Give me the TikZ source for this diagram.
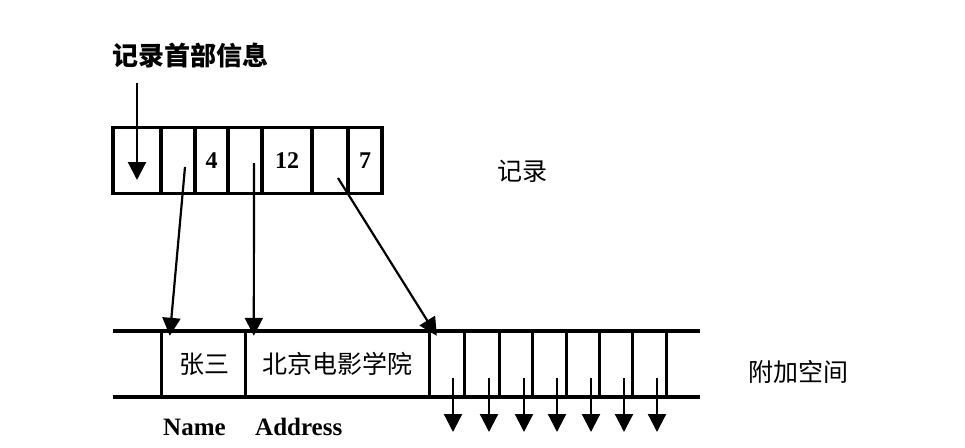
\documentclass[tikz,border=0pt]{standalone}
\usepackage{fontspec}
\setmainfont{Liberation Serif}
\newfontfamily\cjk{Noto Sans CJK SC}
\usetikzlibrary{arrows.meta}
\begin{document}
\begin{tikzpicture}[x=1pt,y=-1pt,
  cellbox/.style={draw,line width=3.2pt,inner sep=0pt,minimum height=66pt,font=\bfseries\fontsize{24}{24}\selectfont},
  slotbox/.style={inner sep=0pt,minimum height=66pt},
  arr/.style={line width=2.2pt,-{Triangle[width=18pt,length=18pt]}},
  cjklab/.style={font=\cjk\fontsize{25}{25}\selectfont},
  enlab/.style={font=\bfseries\fontsize{25}{25}\selectfont}]
\useasboundingbox (0,0) rectangle (965,447);
% top record
\node[cellbox,minimum width=48pt] (t1) at (137,160.5) {};
\node[cellbox,minimum width=34pt] (t2) at (178,160.5) {};
\node[cellbox,minimum width=33pt] (t3) at (211.5,160.5) {4};
\node[cellbox,minimum width=34pt] (t4) at (245,160.5) {};
\node[cellbox,minimum width=50pt] (t5) at (287,160.5) {12};
\node[cellbox,minimum width=36pt] (t6) at (330,160.5) {};
\node[cellbox,minimum width=34pt] (t7) at (365,160.5) {7};
\node[font=\cjk\bfseries\fontsize{26}{26}\selectfont,anchor=west,inner sep=0pt] (head) at (112,56) {记录首部信息};
\node[cjklab,anchor=west,inner sep=0pt] (rec) at (497,171) {记录};
\coordinate (hs) at (137,83);
\draw[arr] (hs) -- (t1.center |- 0,180);
% bottom row
\coordinate (bl) at (113,331);
\coordinate (br) at (700,331);
\draw[line width=3.2pt] (bl) -- (br);
\draw[line width=3.2pt] (113,397) -- (700,397);
\node[slotbox,minimum width=84pt,cjklab] (name) at (204,364) {张三};
\node[slotbox,minimum width=183pt,cjklab] (addr) at (337.5,364) {北京电影学院};
\draw[line width=3.2pt] (name.north west) -- (name.south west);
\draw[line width=3.2pt] (addr.north west) -- (addr.south west);
\draw[line width=3.2pt] (addr.north east) -- (addr.south east);
\foreach \i/\xa/\xb in {1/428/464,2/464/499,3/499/532,4/532/566,5/566/599,6/599/632,7/632/666}{
  \node[slotbox,minimum width={\xb-\xa}] (s\i) at ({(\xa+\xb)/2},364) {};
  \draw[line width=3pt] (s\i.north east) -- (s\i.south east);
  \coordinate (d\i) at ({\xa+25},378);
  \draw[arr] (d\i) -- ++(0,54);
}
\node[cjklab,anchor=west,inner sep=0pt] (extra) at (748,372) {附加空间};
\node[enlab,anchor=west,inner sep=0pt] (nl) at (163,427) {Name};
\node[enlab,anchor=west,inner sep=0pt] (al) at (255,427) {Address};
% pointers
\coordinate (p1) at (185,167);
\coordinate (p2) at (254,163);
\coordinate (p3) at (338,178);
\draw[arr] (p1) -- ([xshift=8pt,yshift=-5pt]name.north west);
\draw[arr] (p2) -- ([xshift=8pt,yshift=-5pt]addr.north west);
\draw[arr] (p3) -- ([xshift=9pt,yshift=-5pt]s1.north west);
\end{tikzpicture}
\end{document}
